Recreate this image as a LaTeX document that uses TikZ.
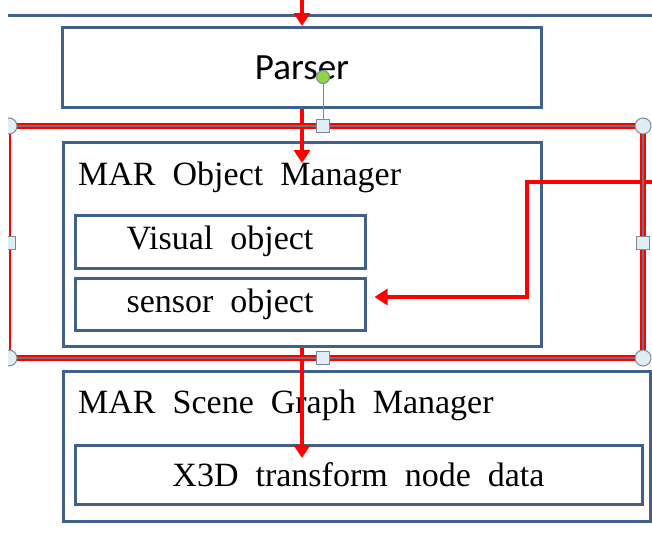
\documentclass[tikz,border=0pt]{standalone}
\usepackage{fontspec}
\setmainfont[WordSpace=2]{Liberation Serif}
\newfontfamily\calibri{Carlito}
\usetikzlibrary{arrows.meta}
\definecolor{boxblue}{RGB}{65,96,138}
\definecolor{flowred}{RGB}{255,0,0}
\definecolor{handlefill}{RGB}{222,238,244}
\definecolor{handleedge}{RGB}{125,138,150}
\definecolor{rotgreen}{RGB}{140,214,72}
\definecolor{selgray}{RGB}{120,110,120}

\begin{document}
\begin{tikzpicture}[x=1pt,y=-1pt,
  panel/.style={draw=boxblue, line width=3pt, rectangle, inner sep=0pt},
  boxtext/.style={font=\fontsize{34}{40}\selectfont},
  flow/.style={draw=flowred, line width=3.3pt, -{Triangle[width=16pt,length=13pt]}},
  handlecirc/.style={circle, draw=handleedge, fill=handlefill, line width=1pt, minimum size=16pt, inner sep=0pt},
  handlesq/.style={rectangle, draw=handleedge, fill=handlefill, line width=1pt, minimum size=13pt, inner sep=0pt},
  selline/.style={draw=flowred, line width=6pt},
  selcore/.style={draw=selgray, line width=1.4pt}
]
\useasboundingbox (0,0) rectangle (652,539);
\clip (0,0) rectangle (652,539);

% frame edge above the parser
\coordinate (frameL) at (8,15);
\coordinate (frameR) at (652,15);
\draw[boxblue, line width=3pt] (frameL) -- (frameR);

% boxes
\node[panel, minimum width=479pt, minimum height=80pt,
      font=\calibri\fontsize{37}{40}\selectfont] (parser) at (302,67.5) {Parser};
\node[panel, minimum width=478pt, minimum height=204pt] (obj) at (302,244) {};
\node[boxtext, anchor=base west, inner sep=0pt] (objtitle) at (78,185) {MAR Object Manager};
\node[panel, boxtext, minimum width=290pt, minimum height=53pt] (visual) at (220,241.5) {Visual object};
\node[panel, boxtext, minimum width=290pt, minimum height=52pt] (sensor) at (220,304) {sensor object};

\node[panel, minimum width=587pt, minimum height=150pt] (scene) at (356.5,446) {};
\node[boxtext, anchor=base west, inner sep=0pt] (scenetitle) at (78,413) {MAR Scene Graph Manager};
\node[panel, boxtext, minimum width=567pt, minimum height=59pt] (x3d) at (358.5,474.5) {X3D transform node data};

% data flow
\coordinate (topin) at (302,0);
\coordinate (tipobj) at (302,163);
\coordinate (tipx3d) at (302,458);
\coordinate (feed) at (652,182);
\coordinate (bend) at (527,297);
\coordinate (tipsensor) at ([xshift=8pt,yshift=7pt]sensor.east);

\draw[flow] (topin) -- (parser.north);
\draw[flow] (parser.south) -- (tipobj);
\draw[flow] (obj.south) -- (tipx3d);
\draw[flow, line join=miter] (feed) -| (bend) -- (tipsensor);

% selection frame with handles
\coordinate (sTL) at (10,126);
\coordinate (sTR) at (643,126);
\coordinate (sBL) at (10,358);
\coordinate (sBR) at (643,358);
\draw[draw=flowred, line width=2.5pt] (sTL) -- (sBL);
\draw[selline] (sTL) -- (sTR) -- (sBR) -- (sBL);
\draw[selcore] (sTL) -- (sTR) -- (sBR) -- (sBL);

\begin{scope}
\clip (8,0) rectangle (652,539);
\node[handlecirc] (hTL) at (9,126) {};
\node[handlecirc] (hBL) at (9,358) {};
\node[handlesq] (hML) at (9,243) {};
\end{scope}
\node[handlecirc] (hTR) at (643,126) {};
\node[handlecirc] (hBR) at (643,358) {};
\node[handlesq] (hMR) at (643,243) {};
\node[handlesq] (hMT) at (323,126) {};
\node[handlesq] (hMB) at (323,358) {};

% rotation handle
\node[circle, draw=handleedge, fill=rotgreen, line width=1pt, minimum size=13pt, inner sep=0pt] (rot) at (323,77) {};
\draw[handleedge, line width=1pt] (rot) -- (hMT);
\end{tikzpicture}
\end{document}
